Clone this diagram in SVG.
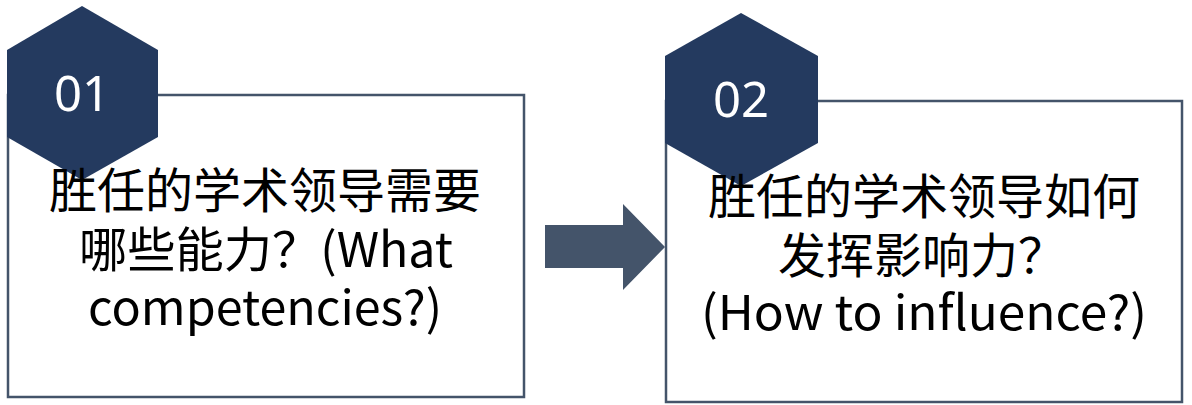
<svg xmlns="http://www.w3.org/2000/svg" width="1192" height="405" viewBox="0 0 1192 405">
<style>
.box{fill:#ffffff;stroke:#44546a;stroke-width:2.5}
.hex{fill:#243a5f}
.num{font-family:"Noto Sans","Noto Sans CJK SC",sans-serif;font-size:49px;fill:#ffffff;text-anchor:middle}
.txt{font-family:"Noto Sans CJK SC","Noto Sans",sans-serif;font-size:48px;fill:#000000;text-anchor:middle}
.arrow{fill:#44546a}
</style>
<rect width="1192" height="405" fill="#ffffff"/>
<g id="connectors">
<polygon class="arrow" points="545,225 623,225 623,204 665,247 623,290 623,268 545,268"/>
</g>
<g id="node1">
<rect class="box" x="8" y="95" width="516" height="302"/>
<polygon class="hex" points="82,6 158,50 158,137 82,180 7,137 7,50"/>
<text class="num" x="82" y="111">01</text>
<text class="txt" x="265" y="208">胜任的学术领导需要</text>
<text class="txt" x="266" y="267" textLength="374" lengthAdjust="spacingAndGlyphs">哪些能力？(What</text>
<text class="txt" x="265" y="325" textLength="354" lengthAdjust="spacingAndGlyphs">competencies?)</text>
</g>
<g id="node2">
<rect class="box" x="666" y="101" width="516" height="301"/>
<polygon class="hex" points="741,13 818,56 818,143 741,186 665,143 665,56"/>
<text class="num" x="741" y="117">02</text>
<text class="txt" x="924" y="214">胜任的学术领导如何</text>
<text class="txt" x="922" y="273">发挥影响力？</text>
<text class="txt" x="924" y="330" textLength="446" lengthAdjust="spacingAndGlyphs">(How to influence?)</text>
</g>
</svg>
